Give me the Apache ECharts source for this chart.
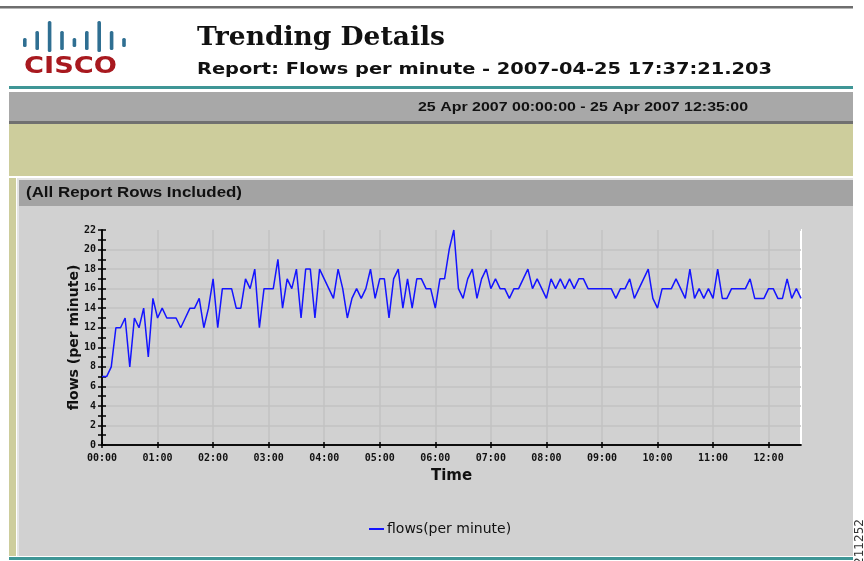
<!DOCTYPE html>
<html><head><meta charset="utf-8">
<script src="https://cdn.jsdelivr.net/npm/echarts@6/dist/echarts.min.js"></script>
<style>html,body{margin:0;padding:0;background:#fff;overflow:hidden}#c{width:864px;height:561px}</style>
</head><body><div id="c"></div>
<script>
// ---- data ----
const stepMinutes = 5;
const flows = [
  7,7,8,12,12,13,8,13,12,14,9,15,
  13,14,13,13,13,12,13,14,14,15,12,14,
  17,12,16,16,16,14,14,17,16,18,12,16,
  16,16,19,14,17,16,18,13,18,18,13,18,
  17,16,15,18,16,13,15,16,15,16,18,15,
  17,17,13,17,18,14,17,14,17,17,16,16,
  14,17,17,20,22,16,15,17,18,15,17,18,
  16,17,16,16,15,16,16,17,18,16,17,16,
  15,17,16,17,16,17,16,17,17,16,16,16,
  16,16,16,15,16,16,17,15,16,17,18,15,
  14,16,16,16,17,16,15,18,15,16,15,16,
  15,18,15,15,16,16,16,16,17,15,15,15,
  16,16,15,15,17,15,16,15
];
const pad = n => (n < 10 ? '0' : '') + n;
const times = flows.map((_, i) => { const m = i * stepMinutes; return pad(Math.floor(m / 60)) + ':' + pad(m % 60); });
const seriesName = 'flows(per minute)';
const yName = 'flows (per minute)';
const xName = 'Time';
const titleText = 'Trending Details';
const subtitleText = 'Report: Flows per minute - 2007-04-25 17:37:21.203';
const rangeText = '25 Apr 2007 00:00:00 - 25 Apr 2007 12:35:00';
const panelText = '(All Report Rows Included)';
const logoText = 'CISCO';
const figId = '211252';

// ---- helpers ----
const mctx = document.createElement('canvas').getContext('2d');
function fit(text, font, w) { mctx.font = font; return w / mctx.measureText(text).width; }
function txt(text, x, y, font, fill, align, vAlign, width, extra) {
  const o = {
    type: 'text', x: x, y: y, z: 20,
    style: { text: text, x: 0, y: 0, font: font, fill: fill,
      align: align, textAlign: align, verticalAlign: vAlign, textVerticalAlign: vAlign }
  };
  if (width) { o.scaleX = fit(text, font, width); }
  return Object.assign(o, extra || {});
}
function rect(x, y, w, h, fill) {
  return { type: 'rect', z: -10, shape: { x: x, y: y, width: w, height: h }, style: { fill: fill }, silent: true };
}

const gfx = [];
// top rule
gfx.push(rect(0, 6, 853, 2.5, '#6e6e6e'));
// cisco bridge logo bars
const barH = [9, 19, 31, 19, 9, 19, 31, 19, 9];
barH.forEach((h, i) => {
  gfx.push({ type: 'rect', z: 5, shape: { x: 23 + i * 12.4, y: (h === 9 ? 38 : (h === 19 ? 31 : 21)), width: 3.6, height: h, r: 1.5 }, style: { fill: '#2f6f92' } });
});
gfx.push(txt(logoText, 24, 67, 'bold 23px "DejaVu Sans", sans-serif', '#a8191f', 'left', 'middle', 93));
// titles
gfx.push(txt(titleText, 197, 38, 'bold 26px "DejaVu Serif", "Liberation Serif", serif', '#111', 'left', 'middle', 248));
gfx.push(txt(subtitleText, 197, 69.5, 'bold 16px "DejaVu Sans", sans-serif', '#111', 'left', 'middle', 575));
// teal dotted rule
gfx.push(rect(9, 86, 844, 3, '#3f9696'));
// gray date bar
gfx.push(rect(9, 92, 844, 29, '#a8a8a8'));
gfx.push(rect(9, 121, 844, 3, '#707070'));
gfx.push(txt(rangeText, 748, 107, 'bold 13px "Liberation Sans", Arial, sans-serif', '#111', 'right', 'middle', 330));
// khaki band + left strip
gfx.push(rect(9, 124, 844, 52, '#cdcd9c'));
gfx.push(rect(9, 178, 7, 378, '#cdcd9c'));
// panel
gfx.push(rect(17, 178, 836, 378, '#e4e4e4'));
gfx.push(rect(19, 180, 834, 26, '#a3a3a3'));
gfx.push(rect(19, 206, 834, 350, '#d1d1d1'));
gfx.push(txt(panelText, 26, 193.5, 'bold 14px "Liberation Sans", Arial, sans-serif', '#111', 'left', 'middle', 216));
// bottom teal rule
gfx.push(rect(9, 557, 844, 3, '#3f9696'));
// figure id
gfx.push(txt(figId, 860, 542, '12px "DejaVu Sans", sans-serif', '#333', 'center', 'middle', null, { rotation: Math.PI / 2 }));

const tickFont = { fontFamily: '"DejaVu Sans Mono", monospace', fontSize: 10, fontWeight: 'bold', color: '#111' };
const axisLine = { show: true, lineStyle: { color: '#000', width: 1.5 } };

const chart = echarts.init(document.getElementById('c'), null, { renderer: 'canvas' });
chart.setOption({
  animation: false,
  backgroundColor: '#ffffff',
  graphic: { elements: gfx },
  grid: { left: 102, top: 230, right: 63, bottom: 116, show: true, borderColor: '#ffffff', borderWidth: 2, backgroundColor: 'transparent' },
  legend: {
    left: 364, top: 517, itemWidth: 15, itemHeight: 2, itemGap: 10, icon: 'rect',
    textStyle: { fontFamily: '"DejaVu Sans", sans-serif', fontSize: 14, color: '#111', padding: [0, 0, 0, -2] },
    data: [seriesName]
  },
  xAxis: [{
    type: 'category', data: times, boundaryGap: false, position: 'bottom',
    name: xName, nameLocation: 'middle', nameGap: 24, nameMoveOverlap: false,
    nameTextStyle: { fontFamily: '"DejaVu Sans", sans-serif', fontSize: 15, fontWeight: 'bold', color: '#111' },
    axisLine: axisLine,
    axisTick: { show: true, interval: 11, length: 3, lineStyle: { color: '#000', width: 1.5 } },
    axisLabel: Object.assign({ interval: 11, margin: 8 }, tickFont),
    splitLine: { show: true, interval: 11, lineStyle: { color: '#c2c2c2', width: 1.5 } }
  }, {
    type: 'category', data: times, boundaryGap: false, position: 'bottom', offset: 0,
    axisLine: axisLine,
    axisTick: { show: true, inside: true, interval: 11, length: 3, lineStyle: { color: '#000', width: 1.5 } },
    axisLabel: { show: false }, splitLine: { show: false }
  }],
  yAxis: [{
    type: 'value', min: 0, max: 22, interval: 2, position: 'left',
    name: yName, nameLocation: 'middle', nameGap: 21, nameMoveOverlap: false,
    nameTextStyle: { fontFamily: '"DejaVu Sans", sans-serif', fontSize: 14, fontWeight: 'bold', color: '#111' },
    axisLine: axisLine,
    axisTick: { show: true, length: 4, lineStyle: { color: '#000', width: 1.5 } },
    minorTick: { show: true, splitNumber: 2, length: 4, lineStyle: { color: '#000', width: 1.5 } },
    axisLabel: Object.assign({ margin: 6 }, tickFont),
    splitLine: { show: true, lineStyle: { color: '#c2c2c2', width: 1.5 } }
  }, {
    type: 'value', min: 0, max: 22, interval: 2, position: 'left', offset: 0,
    axisLine: axisLine,
    axisTick: { show: true, inside: true, length: 4, lineStyle: { color: '#000', width: 1.5 } },
    minorTick: { show: true, splitNumber: 2, length: 4, lineStyle: { color: '#000', width: 1.5 } },
    axisLabel: { show: false }, splitLine: { show: false }
  }],
  series: [{
    name: seriesName, type: 'line', data: flows, xAxisIndex: 0, yAxisIndex: 0,
    symbol: 'none', showSymbol: false, smooth: false,
    itemStyle: { color: '#1414ff' },
    lineStyle: { color: '#1414ff', width: 1.5 }
  }]
});
</script></body></html>
